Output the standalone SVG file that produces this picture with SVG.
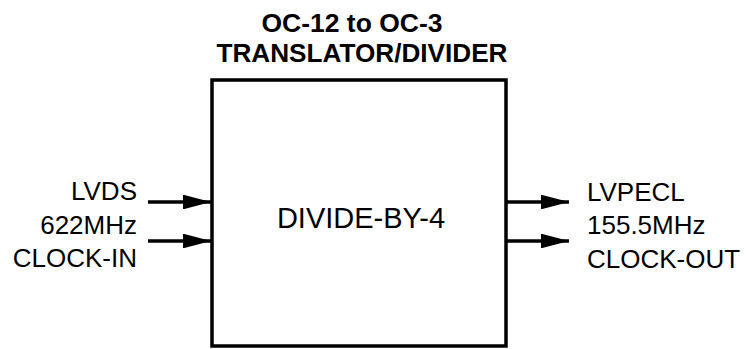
<svg xmlns="http://www.w3.org/2000/svg" width="746" height="349" viewBox="0 0 746 349">
<style>
.lbl{font-family:"Liberation Sans",Arial,sans-serif;font-size:26px;fill:#000}
.ttl{font-family:"Liberation Sans",Arial,sans-serif;font-size:26px;font-weight:bold;fill:#000;text-anchor:middle}
.wire{stroke:#000;stroke-width:3.5;fill:none}
</style>
<defs>
<marker id="ah" markerWidth="8" markerHeight="4.2" refX="8" refY="2.1" orient="auto" markerUnits="strokeWidth">
<path d="M0,0 L8,2.1 L0,4.2 Z" fill="#000"/>
</marker>
</defs>
<rect width="746" height="349" fill="#fff"/>
<g id="title">
<text class="ttl" x="352" y="32" textLength="181" lengthAdjust="spacingAndGlyphs">OC-12 to OC-3</text>
<text class="ttl" x="362" y="62" textLength="291" lengthAdjust="spacingAndGlyphs">TRANSLATOR/DIVIDER</text>
</g>
<g id="divider">
<rect x="212" y="80" width="294" height="266" fill="#fff" stroke="#000" stroke-width="3.5"/>
<text class="lbl" x="361" y="228" style="font-size:29px" text-anchor="middle">DIVIDE-BY-4</text>
</g>
<g id="input-label">
<text class="lbl" x="137" y="200" text-anchor="end">LVDS</text>
<text class="lbl" x="137" y="234" text-anchor="end">622MHz</text>
<text class="lbl" x="137" y="267" text-anchor="end">CLOCK-IN</text>
</g>
<g id="output-label">
<text class="lbl" x="587" y="201">LVPECL</text>
<text class="lbl" x="587" y="234">155.5MHz</text>
<text class="lbl" x="587" y="268">CLOCK-OUT</text>
</g>
<g id="connectors">
<line class="wire" x1="148" y1="202" x2="211" y2="202" marker-end="url(#ah)"/>
<line class="wire" x1="148" y1="241" x2="211" y2="241" marker-end="url(#ah)"/>
<line class="wire" x1="506" y1="202" x2="569" y2="202" marker-end="url(#ah)"/>
<line class="wire" x1="506" y1="241" x2="569" y2="241" marker-end="url(#ah)"/>
</g>
</svg>
